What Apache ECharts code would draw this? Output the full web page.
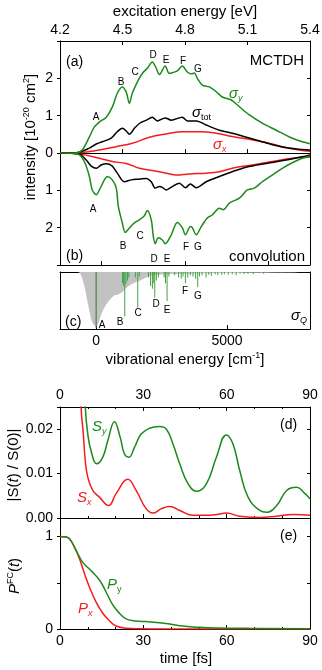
<!DOCTYPE html>
<html><head><meta charset="utf-8">
<script src="https://cdn.jsdelivr.net/npm/echarts@6/dist/echarts.min.js"></script>
<style>html,body{margin:0;padding:0;background:#fff}#c{width:322px;height:670px}</style>
</head><body><div id="c"></div>
<script>
// ---------- DATA ----------
// panel (a): absorption cross sections (MCTDH), energy in eV, intensity in 1e-20 cm^2
const aSigYE = [4.20,4.28,4.307,4.341,4.365,4.389,4.422,4.451,4.475,4.499,4.518,4.533,4.547,4.571,4.595,4.619,4.643,4.662,4.677,4.705,4.724,4.739,4.763,4.787,4.811,4.830,4.845,4.859,4.883,4.917,4.950,4.979,5.022,5.061,5.109,5.171,5.238,5.301,5.363,5.40];
const aSigYV = [0,0.01,0.08,0.43,0.70,0.83,0.96,1.23,1.60,1.77,1.63,1.33,1.60,1.90,2.13,2.27,2.44,2.27,2.10,2.33,2.13,2.15,2.20,2.33,2.17,2.12,2.14,2.00,1.82,1.77,1.64,1.50,1.42,1.24,1.02,0.80,0.61,0.43,0.30,0.25];
const aSigTotE = [4.20,4.28,4.341,4.374,4.403,4.446,4.475,4.499,4.518,4.533,4.557,4.581,4.614,4.643,4.667,4.705,4.734,4.787,4.811,4.854,4.902,4.965,5.027,5.109,5.190,5.267,5.349,5.40];
const aSigTotV = [0,0.01,0.13,0.24,0.30,0.40,0.57,0.66,0.59,0.50,0.66,0.79,0.88,0.96,0.86,0.94,0.88,0.96,0.86,0.86,0.75,0.61,0.53,0.40,0.27,0.16,0.10,0.08];
const aSigXE = [4.20,4.293,4.389,4.470,4.547,4.629,4.710,4.787,4.869,4.950,5.027,5.109,5.190,5.267,5.349,5.40];
const aSigXV = [0,0.01,0.08,0.17,0.26,0.42,0.51,0.57,0.57,0.53,0.44,0.37,0.28,0.17,0.08,0.05];
// panel (b): convolution (plotted downward)
const bSigYE = [4.20,4.23,4.293,4.321,4.341,4.355,4.374,4.389,4.413,4.427,4.451,4.470,4.480,4.499,4.513,4.533,4.557,4.581,4.605,4.619,4.638,4.648,4.657,4.672,4.691,4.705,4.734,4.763,4.787,4.802,4.826,4.835,4.854,4.878,4.907,4.931,4.965,4.984,5.013,5.061,5.099,5.133,5.171,5.219,5.267,5.315,5.363,5.40];
const bSigYV = [0,0,0.05,0.28,0.63,0.99,1.12,0.99,0.72,0.63,0.72,0.94,1.43,1.87,2.13,2.01,1.87,1.79,1.68,1.54,1.79,2.24,2.43,2.27,2.33,2.43,2.19,1.86,2.00,2.19,1.97,2.00,2.19,1.97,1.74,1.66,1.48,1.52,1.34,1.21,0.99,0.94,0.77,0.59,0.41,0.26,0.14,0.10];
const bSigTotE = [4.20,4.293,4.326,4.350,4.374,4.398,4.422,4.451,4.475,4.509,4.542,4.581,4.614,4.638,4.657,4.677,4.691,4.710,4.739,4.773,4.802,4.826,4.854,4.902,4.965,5.027,5.094,5.190,5.286,5.363,5.40];
const bSigTotV = [0,0.03,0.19,0.35,0.41,0.32,0.29,0.35,0.54,0.77,0.72,0.70,0.68,0.77,0.94,0.90,0.92,0.99,0.90,0.81,0.93,0.83,0.93,0.77,0.63,0.50,0.38,0.28,0.19,0.10,0.05];
const bSigXE = [4.20,4.293,4.389,4.451,4.518,4.581,4.643,4.710,4.758,4.821,4.902,4.965,5.027,5.123,5.219,5.315,5.40];
const bSigXV = [0,0.03,0.14,0.23,0.28,0.41,0.47,0.54,0.59,0.56,0.54,0.50,0.41,0.32,0.23,0.14,0.10];
// panel (c): stick spectrum sigma_Q (vibrational energy cm^-1, relative depth)
const cStickE = [0,1010,1050,1093,1140,1200,1250,1500,1590,1650,2000,2080,2150,2200,2240,2300,2380,2600,2650,2710,2780,3000,3150,3250,3320,3410,3500,3600,3700,3800,3880,3950,4050,4200,4300,4400,4550,4650,4800,4900,5050,5200,5350,5500,5650,5800,6000,6200,6400,6600,6800,7100,7400];
const cStickV = [1.0,0.20,0.25,0.79,0.22,0.15,0.10,0.10,0.64,0.08,0.10,0.25,0.30,0.20,0.46,0.15,0.10,0.10,0.20,0.52,0.08,0.06,0.10,0.12,0.08,0.20,0.10,0.06,0.08,0.12,0.27,0.08,0.06,0.10,0.05,0.07,0.04,0.06,0.05,0.04,0.05,0.04,0.06,0.03,0.04,0.03,0.04,0.02,0.03,0.02,0.02,0.02,0.015];
const cGrayE = [-1380,-700,-600,-450,-300,-150,0,100,165,300,430,665,850,1000,1190,1430,1690,1950,2190,2600,3500,5000,7000,8170];
const cGrayV = [0,0,0.03,0.25,0.60,0.90,0.97,0.90,0.80,0.65,0.55,0.43,0.40,0.36,0.27,0.20,0.15,0.09,0.06,0.04,0.03,0.02,0.01,0.005];
// panel (d): autocorrelation |S(t)/S(0)|, time in fs
const dSyT = [7,8.2,9.1,10.0,11.2,13.2,15.4,17.2,19.6,21.7,23.2,24.8,26.8,29.2,32.2,35.8,38.3,40.7,43.1,46.1,49.1,52.7,56.3,59.9,62.3,64.7,67.7,71.9,74.4,78,81.6,85.2,88.2,90];
const dSyV = [0.07,0.04,0.025,0.0189,0.0151,0.0122,0.0137,0.0174,0.0217,0.0181,0.0144,0.0137,0.0159,0.0189,0.0202,0.0206,0.0200,0.0166,0.0122,0.0077,0.0060,0.0077,0.0137,0.0187,0.0166,0.0107,0.0047,0.0017,0.0013,0.0028,0.0062,0.0069,0.0055,0.0043];
const dSxT = [6.5,7.6,8.4,9.1,10.0,11.8,14.2,17.5,20.2,24.4,27.4,31.0,33.4,36.5,39.5,43.1,47.9,52.7,56.5,59.9,64.7,72.0,78.0,84.0,90];
const dSxV = [0.06,0.025,0.0189,0.0129,0.0092,0.0062,0.0047,0.0028,0.0055,0.0087,0.0062,0.0021,0.0011,0.0021,0.0026,0.0017,0.0006,0.0006,0.0008,0.0011,0.0004,0.0001,0.0004,0.0008,0.0006];
// panel (e): Franck-Condon population
const ePyT = [0,2.4,4,5.8,8.2,11.2,14.2,16.6,19,21.4,23.8,27.4,31,35.8,39.5,44.3,50.3,56.3,68,90];
const ePyV = [1,0.995,0.95,0.85,0.72,0.63,0.53,0.40,0.26,0.17,0.11,0.086,0.08,0.068,0.054,0.032,0.018,0.011,0.007,0.003];
const ePxT = [0,2,3.4,5.2,7,8.8,10.6,13,15.4,17.8,20.2,23.8,28.6,40,90];
const ePxV = [1,0.995,0.975,0.885,0.76,0.60,0.455,0.29,0.17,0.09,0.032,0.008,0.003,0.001,0];
// tick labels
const eVTicks = [4.2,4.5,4.8,5.1,5.4];
const bBottomTicks = [4.4,4.8,5.2];
const cmLabels = [0,5000];
const peakNames = ['A','B','C','D','E','F','G'];

// ---------- CHART ----------
const FONT = "'Liberation Sans', Arial, Helvetica, sans-serif";
const GREEN = '#1b8a1b', RED = '#f41c1c', BLACK = '#000000', GRAY = '#c2c2c2', STICK = '#44a344', STICK_A = '#2a7a2a';
const zip = (a, b) => a.map((v, i) => [v, b[i]]);
const LS = {color: '#000', width: 1};

function merge(a, b) {
  const o = Array.isArray(a) ? a.slice() : Object.assign({}, a);
  for (const k in b) {
    if (b[k] && typeof b[k] === 'object' && !Array.isArray(b[k]) && a[k] && typeof a[k] === 'object') o[k] = merge(a[k], b[k]);
    else o[k] = b[k];
  }
  return o;
}
const baseAx = {
  type: 'value', splitLine: {show: false},
  axisLine: {show: true, onZero: false, lineStyle: LS},
  axisTick: {show: true, inside: true, length: 4, lineStyle: LS},
  axisLabel: {show: false, fontSize: 14, color: '#000', fontFamily: FONT},
  minorTick: {show: false}
};
const ax = o => merge(baseAx, o);

const grids = [
  {left: 60, top: 41, width: 250, height: 112},
  {left: 60, top: 153, width: 250, height: 112},
  {left: 60, top: 272, width: 250, height: 57},
  {left: 60, top: 407, width: 250, height: 111},
  {left: 60, top: 518, width: 250, height: 111}
].map(g => Object.assign({outerBoundsMode: 'none', containLabel: false}, g));

const xAxis = [
  ax({gridIndex: 0, position: 'top', min: 4.2, max: 5.4, interval: 0.3,
      axisLabel: {show: true, margin: 4, customValues: eVTicks, formatter: v => v.toFixed(1)}}),
  ax({gridIndex: 0, position: 'bottom', min: 4.2, max: 5.4, interval: 0.3}),
  ax({gridIndex: 1, position: 'bottom', min: 4.2, max: 5.4, axisTick: {customValues: bBottomTicks}}),
  ax({gridIndex: 2, position: 'bottom', min: -1380, max: 8170,
      axisTick: {customValues: cmLabels},
      axisLabel: {show: true, margin: 5, customValues: cmLabels, formatter: v => String(Math.round(v))}}),
  ax({gridIndex: 2, position: 'top', min: -1380, max: 8170, axisTick: {show: false}}),
  ax({gridIndex: 3, position: 'top', min: 0, max: 90, interval: 30,
      minorTick: {show: true, splitNumber: 3, length: 2, lineStyle: LS},
      axisLabel: {show: true, margin: 5}}),
  ax({gridIndex: 3, position: 'bottom', min: 0, max: 90, interval: 30,
      minorTick: {show: true, splitNumber: 3, length: 2, lineStyle: LS}}),
  ax({gridIndex: 4, position: 'bottom', min: 0, max: 90, interval: 30,
      minorTick: {show: true, splitNumber: 3, length: 2, lineStyle: LS},
      axisLabel: {show: true, margin: 5}})
];
const leftY = o => ax(merge({position: 'left', axisTick: {inside: false, length: 3},
  axisLabel: {show: true, margin: 7}}, o));
const rightY = o => ax(merge({position: 'right', axisTick: {inside: true, length: 3}}, o));
const yAxis = [
  leftY({gridIndex: 0, min: 0, max: 3, interval: 1, axisLabel: {formatter: v => v < 3 ? String(v) : ''}}),
  rightY({gridIndex: 0, min: 0, max: 3, interval: 1}),
  leftY({gridIndex: 1, min: 0, max: 3, interval: 1, inverse: true, axisLabel: {formatter: v => (v > 0 && v < 3) ? String(v) : ''}}),
  rightY({gridIndex: 1, min: 0, max: 3, interval: 1, inverse: true}),
  leftY({gridIndex: 2, min: 0, max: 1.02, inverse: true, axisTick: {show: false}, axisLabel: {show: false}}),
  rightY({gridIndex: 2, min: 0, max: 1.02, inverse: true, axisTick: {show: false}}),
  leftY({gridIndex: 3, min: 0, max: 0.025, interval: 0.01, axisLabel: {formatter: v => v > 0.021 ? '' : v.toFixed(2)}}),
  rightY({gridIndex: 3, min: 0, max: 0.025, interval: 0.01}),
  leftY({gridIndex: 4, min: 0, max: 1.2, interval: 0.5, axisLabel: {formatter: v => (v === 0 || v === 1) ? String(v) : ''}}),
  rightY({gridIndex: 4, min: 0, max: 1.2, interval: 0.5})
];

const line = (xi, yi, data, color, sm) => ({
  type: 'line', xAxisIndex: xi, yAxisIndex: yi, data: data, showSymbol: false, symbol: 'none',
  smooth: sm || 0.3, clip: true, z: 3,
  lineStyle: {color: color, width: 1.5}, itemStyle: {color: color}
});

const stickData = cStickE.map((e, i) => i === 0
  ? {value: [e, cStickV[i]], itemStyle: {color: STICK_A}}
  : {value: [e, cStickV[i]]});

const series = [
  line(0, 0, zip(aSigXE, aSigXV), RED, 0.4),
  line(0, 0, zip(aSigTotE, aSigTotV), BLACK),
  line(0, 0, zip(aSigYE, aSigYV), GREEN),
  line(2, 2, zip(bSigXE, bSigXV), RED, 0.4),
  line(2, 2, zip(bSigTotE, bSigTotV), BLACK),
  line(2, 2, zip(bSigYE, bSigYV), GREEN),
  {type: 'line', xAxisIndex: 3, yAxisIndex: 4, data: zip(cGrayE, cGrayV), showSymbol: false, symbol: 'none',
   smooth: 0.3, lineStyle: {width: 0, color: GRAY}, areaStyle: {color: GRAY, opacity: 1}, z: 1},
  {type: 'bar', xAxisIndex: 3, yAxisIndex: 4, data: stickData, barWidth: 1, itemStyle: {color: STICK}, z: 2},
  line(5, 6, zip(dSxT, dSxV), RED, 0.45),
  line(5, 6, zip(dSyT, dSyV), GREEN, 0.45),
  line(7, 8, zip(ePxT, ePxV), RED, 0.45),
  line(7, 8, zip(ePyT, ePyV), GREEN, 0.45)
];

// ---------- ANNOTATIONS ----------
function T(x, y, text, o) {
  o = o || {};
  return {type: 'text', x: x, y: y, rotation: o.rot || 0, z: 100, silent: true,
    style: Object.assign({text: text, fill: o.color || '#000',
      font: (o.italic ? 'italic ' : '') + (o.size || 14) + 'px ' + FONT,
      fontSize: o.size || 14, fontFamily: FONT, fontStyle: o.italic ? 'italic' : 'normal',
      align: o.align || 'left', verticalAlign: 'middle',
      textAlign: o.align || 'left', textVerticalAlign: 'middle'}, o.rich ? {rich: o.rich} : {})};
}
const richSub = (color) => ({
  g: {fontSize: 15, fontFamily: FONT, fontStyle: 'italic', fill: color, color: color, lineHeight: 18},
  s: {fontSize: 9, fontFamily: FONT, fontStyle: 'italic', fill: color, color: color, lineHeight: 10, verticalAlign: 'bottom'},
  u: {fontSize: 9, fontFamily: FONT, fill: color, color: color, lineHeight: 10, verticalAlign: 'bottom'}
});
const richSup = {
  n: {fontSize: 15, fontFamily: FONT, lineHeight: 18},
  i: {fontSize: 15, fontFamily: FONT, fontStyle: 'italic', lineHeight: 18},
  s: {fontSize: 9, fontFamily: FONT, lineHeight: 10, verticalAlign: 'top'}
};
const peakA = [[96,117],[121,82],[135,72],[153,55],[166,60],[183,61],[198,69]];
const peakB = [[93,209],[123,246],[140,236],[154,259],[167,259],[186,247],[198,247]];
const peakC = [[102,325],[120,322],[138,313],[156,304],[167,310],[185,291],[198,296]];

const graphic = [
  T(185, 12, 'excitation energy [eV]', {size: 15, align: 'center'}),
  T(31, 137, '{n|intensity [10}{s|-20}{n| cm}{s|2}{n|]}', {align: 'center', rot: Math.PI / 2, rich: richSup}),
  T(66, 62, '(a)', {size: 14}),
  T(304, 61, 'MCTDH', {size: 15, align: 'right'}),
  T(66, 256, '(b)', {size: 14}),
  T(305, 257, 'convolution', {size: 15, align: 'right'}),
  T(65, 322, '(c)', {size: 14}),
  T(185, 360, '{n|vibrational energy [cm}{s|-1}{n|]}', {align: 'center', rich: richSup}),
  T(229, 94, '{g|σ}{s|y}', {rich: richSub(GREEN)}),
  T(192, 113, '{g|σ}{u|tot}', {rich: richSub(BLACK)}),
  T(213, 145, '{g|σ}{s|x}', {rich: richSub(RED)}),
  T(307, 316, '{g|σ}{s|Q}', {align: 'right', rich: richSub(BLACK)}),
  T(280, 425, '(d)', {size: 14}),
  T(280, 536, '(e)', {size: 14}),
  T(92, 427, '{g|S}{s|y}', {rich: richSub(GREEN)}),
  T(77, 498, '{g|S}{s|x}', {rich: richSub(RED)}),
  T(107, 585, '{g|P}{u|y}', {rich: richSub(GREEN)}),
  T(78, 609, '{g|P}{s|x}', {rich: richSub(RED)}),
  T(14, 465, '{n||S(}{i|t}{n|) / S(0)|}', {align: 'center', rot: Math.PI / 2, rich: richSup}),
  T(15, 576, '{i|P}{s|FC}{n|(}{i|t}{n|)}', {align: 'center', rot: Math.PI / 2, rich: richSup}),
  T(186, 659, 'time [fs]', {size: 15, align: 'center'})
];
[peakA, peakB, peakC].forEach(arr => arr.forEach((p, i) =>
  graphic.push(T(p[0], p[1], peakNames[i], {size: 10, align: 'center'}))));

const chart = echarts.init(document.getElementById('c'), null, {renderer: 'canvas'});
chart.setOption({
  animation: false,
  backgroundColor: '#fff',
  textStyle: {fontFamily: FONT},
  grid: grids, xAxis: xAxis, yAxis: yAxis, series: series, graphic: graphic
});
</script></body></html>
